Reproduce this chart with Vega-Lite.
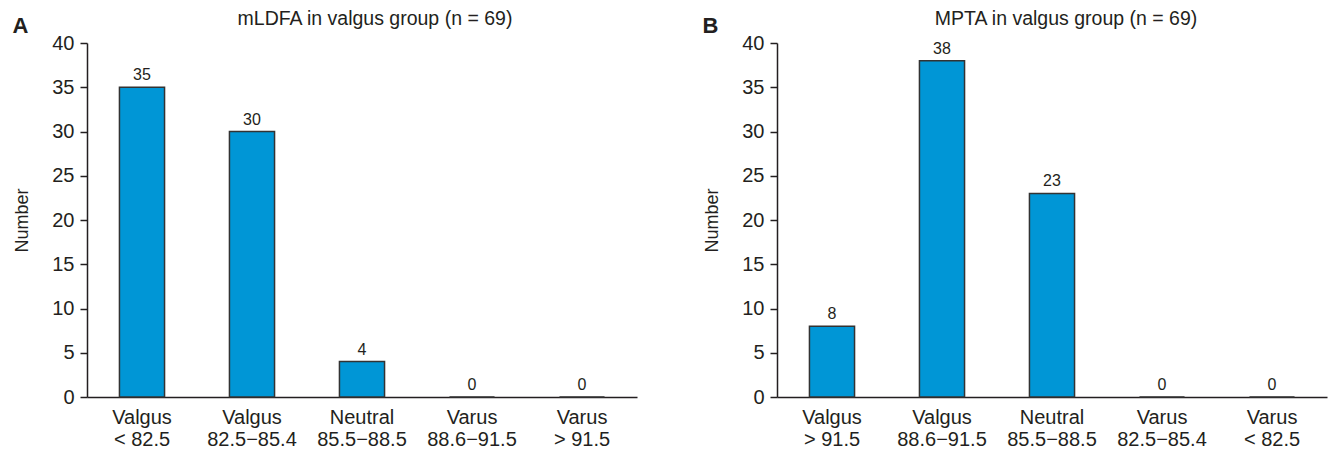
{
  "$schema": "https://vega.github.io/schema/vega-lite/v6.json",
  "background": "white",
  "padding": {"left": 12, "top": 8, "right": 5, "bottom": 2},
  "config": {
    "font": "Liberation Sans",
    "view": {"stroke": null},
    "axis": {
      "labelFont": "Liberation Sans",
      "titleFont": "Liberation Sans",
      "labelColor": "#231f20",
      "titleColor": "#231f20",
      "domainColor": "#231f20",
      "tickColor": "#231f20",
      "domainWidth": 1.5,
      "tickWidth": 1.5,
      "grid": false,
      "labelFontSize": 20,
      "titleFontSize": 18,
      "titleFontWeight": "normal"
    },
    "title": {"font": "Liberation Sans", "fontSize": 19.5, "fontWeight": "normal", "color": "#231f20"},
    "concat": {"spacing": 65}
  },
  "hconcat": [
    {
      "width": 550,
      "height": 354,
      "title": {"text": "mLDFA in valgus group (n = 69)", "offset": -15, "dx": 13},
      "data": {"values": [
        {"cat": "Valgus|< 82.5", "n": 35},
        {"cat": "Valgus|82.5−85.4", "n": 30},
        {"cat": "Neutral|85.5−88.5", "n": 4},
        {"cat": "Varus|88.6−91.5", "n": 0},
        {"cat": "Varus|> 91.5", "n": 0}
      ]},
      "layer": [
        {
          "mark": {"type": "bar", "fill": "#0096d6", "stroke": "#333333", "strokeWidth": 1.5},
          "encoding": {
            "x": {"field": "cat", "type": "nominal", "sort": null,
              "scale": {"paddingInner": 0.59, "paddingOuter": 0.295},
              "axis": {"title": null, "labelAngle": 0, "ticks": false, "labelPadding": 10, "labelLineHeight": 22, "labelExpr": "split(datum.label, '|')"}},
            "y": {"field": "n", "type": "quantitative", "scale": {"domain": [0, 40]},
              "axis": {"title": "Number", "values": [0, 5, 10, 15, 20, 25, 30, 35, 40], "tickSize": 7, "labelPadding": 6, "titlePadding": 20}}
          }
        },
        {
          "mark": {"type": "text", "baseline": "bottom", "dy": -4, "fontSize": 16, "color": "#231f20"},
          "encoding": {
            "x": {"field": "cat", "type": "nominal", "sort": null},
            "y": {"field": "n", "type": "quantitative", "scale": {"domain": [0, 40]},
              "axis": {"orient": "left", "title": "A", "labels": false, "ticks": false, "domain": false,
                "titleAngle": 0, "titleX": -75, "titleY": -11, "titleAlign": "left", "titleBaseline": "alphabetic",
                "titleFontWeight": "bold", "titleFontSize": 22}},
            "text": {"field": "n", "type": "quantitative"}
          }
        }
      ],
      "resolve": {"axis": {"y": "independent"}}
    },
    {
      "width": 550,
      "height": 354,
      "title": {"text": "MPTA in valgus group (n = 69)", "offset": -15, "dx": 14},
      "data": {"values": [
        {"cat": "Valgus|> 91.5", "n": 8},
        {"cat": "Valgus|88.6−91.5", "n": 38},
        {"cat": "Neutral|85.5−88.5", "n": 23},
        {"cat": "Varus|82.5−85.4", "n": 0},
        {"cat": "Varus|< 82.5", "n": 0}
      ]},
      "layer": [
        {
          "mark": {"type": "bar", "fill": "#0096d6", "stroke": "#333333", "strokeWidth": 1.5},
          "encoding": {
            "x": {"field": "cat", "type": "nominal", "sort": null,
              "scale": {"paddingInner": 0.59, "paddingOuter": 0.295},
              "axis": {"title": null, "labelAngle": 0, "ticks": false, "labelPadding": 10, "labelLineHeight": 22, "labelExpr": "split(datum.label, '|')"}},
            "y": {"field": "n", "type": "quantitative", "scale": {"domain": [0, 40]},
              "axis": {"title": "Number", "values": [0, 5, 10, 15, 20, 25, 30, 35, 40], "tickSize": 7, "labelPadding": 6, "titlePadding": 20}}
          }
        },
        {
          "mark": {"type": "text", "baseline": "bottom", "dy": -4, "fontSize": 16, "color": "#231f20"},
          "encoding": {
            "x": {"field": "cat", "type": "nominal", "sort": null},
            "y": {"field": "n", "type": "quantitative", "scale": {"domain": [0, 40]},
              "axis": {"orient": "left", "title": "B", "labels": false, "ticks": false, "domain": false,
                "titleAngle": 0, "titleX": -75, "titleY": -11, "titleAlign": "left", "titleBaseline": "alphabetic",
                "titleFontWeight": "bold", "titleFontSize": 22}},
            "text": {"field": "n", "type": "quantitative"}
          }
        }
      ],
      "resolve": {"axis": {"y": "independent"}}
    }
  ]
}
